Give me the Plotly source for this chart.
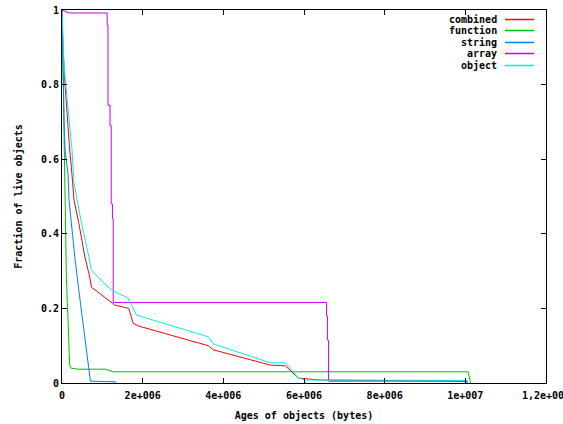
import plotly.graph_objects as go

# ---- data (ages in bytes, fraction of live objects) ----
combined_x = [0, 25e3, 75e3, 149e3, 191e3, 231e3, 298e3, 415e3, 564e3, 688e3, 728e3, 937e3,
              1.143e6, 1.309e6, 1.657e6, 1.764e6, 1.888e6, 3.627e6, 3.752e6, 5.168e6, 5.54e6,
              5.863e6, 6.41e6, 10.037e6, 10.05e6]
combined_y = [1.0, 0.9, 0.8, 0.68, 0.625, 0.58, 0.49, 0.43, 0.34, 0.284, 0.257, 0.24,
              0.222, 0.209, 0.2, 0.16, 0.153, 0.1, 0.089, 0.048, 0.046,
              0.013, 0.008, 0.005, 0.0]

function_x = [0, 20e3, 40e3, 65e3, 70e3, 85e3, 110e3, 150e3, 190e3, 220e3, 400e3,
              1.09e6, 1.27e6, 10.07e6, 10.13e6]
function_y = [1.0, 0.85, 0.7, 0.6, 0.52, 0.48, 0.276, 0.17, 0.048, 0.04, 0.037,
              0.037, 0.03, 0.03, 0.0]

string_x = [0, 15e3, 30e3, 50e3, 60e3, 80e3, 150e3, 175e3, 230e3, 315e3, 415e3, 520e3,
            620e3, 665e3, 705e3, 1.32e6, 1.32e6]
string_y = [1.0, 0.9, 0.8, 0.72, 0.67, 0.62, 0.56, 0.49, 0.43, 0.34, 0.25, 0.16,
            0.07, 0.035, 0.005, 0.003, 0.0]

array_x = [0, 0.1e6, 0.17e6, 1.12e6, 1.12e6, 1.14e6, 1.14e6, 1.19e6, 1.19e6, 1.22e6, 1.22e6,
           1.25e6, 1.25e6, 1.27e6, 1.27e6, 6.56e6, 6.56e6, 6.58e6, 6.58e6, 6.61e6, 6.61e6,
           10.04e6, 10.04e6]
array_y = [1.0, 0.995, 0.992, 0.992, 0.96, 0.96, 0.745, 0.745, 0.69, 0.69, 0.48,
           0.48, 0.44, 0.44, 0.216, 0.216, 0.18, 0.18, 0.115, 0.115, 0.005,
           0.005, 0.0]

object_x = [0, 50e3, 199e3, 248e3, 298e3, 355e3, 480e3, 663e3, 728e3, 894e3, 1.143e6,
            1.309e6, 1.64e6, 1.846e6, 3.627e6, 3.744e6, 5.168e6, 5.54e6, 5.863e6, 6.04e6,
            10.037e6, 10.05e6]
object_y = [1.0, 0.85, 0.68, 0.625, 0.535, 0.5, 0.43, 0.34, 0.303, 0.284, 0.257,
            0.244, 0.228, 0.182, 0.124, 0.105, 0.054, 0.054, 0.013, 0.008,
            0.007, 0.0]

series_names = ["combined", "function", "string", "array", "object"]
series_colors = ["#ff0000", "#00c000", "#0080ff", "#c000ff", "#00eeee"]
series_data = [(combined_x, combined_y), (function_x, function_y), (string_x, string_y),
               (array_x, array_y), (object_x, object_y)]

x_tickvals = [0, 2e6, 4e6, 6e6, 8e6, 10e6, 12e6]
x_ticktext = ["0", "2e+006", "4e+006", "6e+006", "8e+006", "1e+007", "1,2e+007"]
y_tickvals = [0, 0.2, 0.4, 0.6, 0.8, 1.0]
y_ticktext = ["0", "0.2", "0.4", "0.6", "0.8", "1"]

FONT = "DejaVu Sans Mono"

fig = go.Figure()
for name, color, (xs, ys) in zip(series_names, series_colors, series_data):
    fig.add_trace(go.Scatter(x=xs, y=ys, mode="lines", name=name,
                             line=dict(color=color, width=1), showlegend=False,
                             hoverinfo="skip"))

W, H = 563, 424
left, right, top, bottom = 62, 546, 10, 383          # plot box in page pixels
ml, mr, mt, mb = left, W - right, top, H - bottom
pw, ph = W - ml - mr, H - mt - mb

# gnuplot-style key: text right-aligned, sample line to the right
row_y = [19.5, 30.5, 42.5, 53.5, 65.5]
for name, color, ry in zip(series_names, series_colors, row_y):
    yp = 1 - (ry - top) / ph
    fig.add_annotation(xref="paper", yref="paper", x=(499 - left) / pw, y=yp,
                       text=name, showarrow=False, xanchor="right", yanchor="middle",
                       font=dict(family=FONT, size=10, color="black", weight="bold"))
    fig.add_shape(type="line", xref="paper", yref="paper",
                  x0=(505 - left) / pw, x1=(534 - left) / pw, y0=yp, y1=yp,
                  line=dict(color=color, width=1.5))

axis_common = dict(showline=True, linecolor="black", linewidth=1, mirror="allticks",
                   ticks="inside", ticklen=5, tickcolor="black", tickwidth=1,
                   showgrid=False, zeroline=False, automargin=False,
                   ticklabeloverflow="allow",
                   tickfont=dict(family=FONT, size=10, color="black", weight="bold"))

fig.update_layout(
    width=W, height=H,
    margin=dict(l=ml, r=mr, t=mt, b=mb, autoexpand=False),
    paper_bgcolor="white", plot_bgcolor="white",
    font=dict(family=FONT, size=10, color="black", weight="bold"),
    xaxis=dict(range=[0, 1.2e7], tickvals=x_tickvals, ticktext=x_ticktext,
               ticklabelstandoff=3,
               title=dict(text="Ages of objects (bytes)", standoff=11,
                          font=dict(family=FONT, size=10, color="black", weight="bold")),
               **axis_common),
    yaxis=dict(range=[0, 1], tickvals=y_tickvals, ticktext=y_ticktext,
               title=dict(text="Fraction of live objects", standoff=16,
                          font=dict(family=FONT, size=10, color="black", weight="bold")),
               **axis_common),
)

fig.write_html("out.html", config={"displayModeBar": False},
               post_script="document.body.style.margin='0';document.body.style.overflow='hidden';")
